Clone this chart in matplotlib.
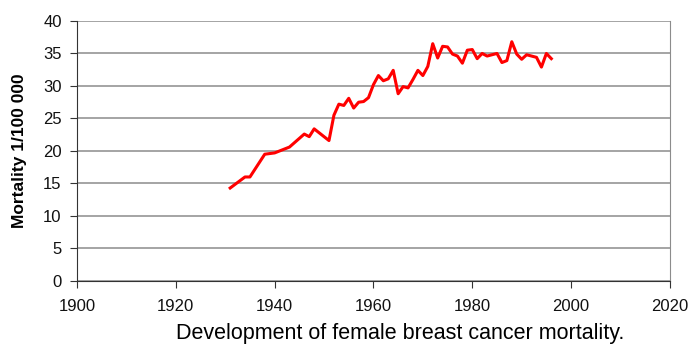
import matplotlib
matplotlib.use("Agg")
import matplotlib.pyplot as plt

years = [1931, 1934, 1935, 1938, 1940, 1943, 1946, 1947, 1948, 1951,
         1952, 1953, 1954, 1955, 1956, 1957, 1958, 1959, 1960, 1961,
         1962, 1963, 1964, 1965, 1966, 1967, 1968, 1969, 1970, 1971,
         1972, 1973, 1974, 1975, 1976, 1977, 1978, 1979, 1980, 1981,
         1982, 1983, 1984, 1985, 1986, 1987, 1988, 1989, 1990, 1991,
         1992, 1993, 1994, 1995, 1996]
mortality = [14.3, 16.0, 16.0, 19.5, 19.7, 20.6, 22.6, 22.2, 23.4, 21.6,
             25.5, 27.2, 27.0, 28.1, 26.6, 27.5, 27.6, 28.2, 30.2, 31.6,
             30.8, 31.1, 32.4, 28.8, 29.9, 29.7, 31.0, 32.4, 31.6, 33.0,
             36.5, 34.3, 36.1, 36.0, 34.9, 34.6, 33.5, 35.5, 35.6, 34.2,
             35.0, 34.6, 34.8, 35.0, 33.6, 33.9, 36.8, 34.9, 34.1, 34.8,
             34.6, 34.4, 32.9, 35.0, 34.2]

x_ticks = [1900, 1920, 1940, 1960, 1980, 2000, 2020]
y_ticks = [0, 5, 10, 15, 20, 25, 30, 35, 40]

plt.rcParams['font.family'] = ['Liberation Sans', 'DejaVu Sans']

fig = plt.figure(figsize=(7, 3.55), dpi=100)
ax = fig.add_axes([0.11, 0.2085, 0.847, 0.7325])

ax.plot(years, mortality, color='#ff0000', linewidth=2.2, zorder=3)

ax.set_xlim(1900, 2020)
ax.set_ylim(0, 40)
ax.set_xticks(x_ticks)
ax.set_yticks(y_ticks)
ax.grid(axis='y', color='#8c8c8c', linewidth=1.1)
ax.set_axisbelow(True)

ax.spines['top'].set_visible(False)
ax.spines['right'].set_color('#8c8c8c')
ax.spines['left'].set_color('#333333')
ax.spines['bottom'].set_color('#333333')

ax.tick_params(axis='both', direction='out', length=5, width=0.8,
               colors='#333333', labelcolor='#111111', labelsize=12)
ax.tick_params(axis='x', pad=8)
ax.tick_params(axis='y', pad=6)

ax.set_ylabel('Mortality 1/100 000', fontsize=12.5, fontweight='bold')
ax.yaxis.set_label_coords((27 - 77) / 593, 0.5)
fig.text(400 / 700, 1 - 333 / 355, 'Development of female breast cancer mortality.',
         ha='center', va='center', fontsize=15.5)

fig.savefig('out.png', dpi=100)
